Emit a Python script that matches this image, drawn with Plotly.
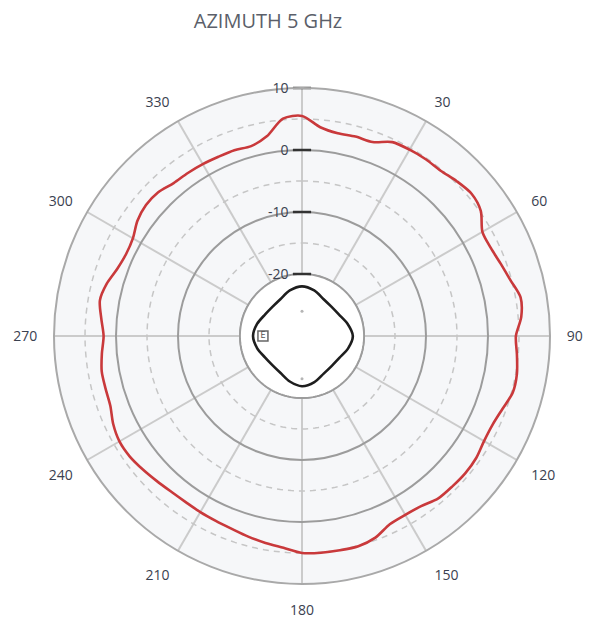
import numpy as np
import plotly.graph_objects as go

# ---- data ----
red_theta = list(range(0, 360, 5))
red_db = [5.5, 3.8, 3.2, 3.3, 3.3, 4.5, 4.7, 4.8, 4.8, 5.3, 5.7, 5.2,
          3.6, 3.6, 4.1, 4.8, 5.8, 5.5, 4.5, 4.8, 5.2, 5.2, 4.4, 3.9,
          3.9, 4.3, 4.4, 4.3, 4.2, 3.5, 3.3, 3.5, 4.6, 5.1, 5.1, 5.1,
          5.0, 4.3, 3.9, 3.5, 3.1, 2.9, 2.8, 2.7, 2.8, 3.1, 3.5, 3.9,
          4.0, 3.6, 2.9, 2.8, 2.8, 2.4, 2.0, 2.5, 3.1, 2.6, 1.7, 1.3,
          1.5, 2.4, 2.85, 2.8, 2.2, 2.1, 2.0, 1.9, 1.9, 1.7, 2.7, 5.2]

black_theta = list(range(0, 360, 15))
black_db = [-22.0, -22.4, -23.1, -23.3, -23.1, -22.4, -21.8, -22.3, -23.0,
            -23.2, -23.0, -22.3, -21.9, -22.4, -23.1, -23.3, -23.1, -22.5,
            -22.1, -22.5, -23.1, -23.3, -23.1, -22.4]

angle_ticks = list(range(0, 360, 30))
angle_labels = ["" if a == 0 else str(a) for a in angle_ticks]
radial_ticks = [10, 0, -10, -20]
radial_labels = ["10", "0", "-10", "-20"]
dashed_rings = [-15, -5, 5]
inner_ring = -20

title_text = "AZIMUTH 5 GHz"

# ---- figure ----
ring_theta = np.arange(0, 361, 2)
fig = go.Figure()

# white inner disc (covers spokes inside the -20 ring)
fig.add_trace(go.Scatterpolar(
    r=[inner_ring] * len(ring_theta), theta=ring_theta, mode="lines",
    fill="toself", fillcolor="white",
    line=dict(color="#9c9c9c", width=1.8), hoverinfo="skip", showlegend=False))

for rv in dashed_rings:
    fig.add_trace(go.Scatterpolar(
        r=[rv] * len(ring_theta), theta=ring_theta, mode="lines",
        line=dict(color="#c6c6c6", width=1.5, dash="6px,5px"),
        hoverinfo="skip", showlegend=False))

fig.add_trace(go.Scatterpolar(
    r=red_db + [red_db[0]], theta=red_theta + [360], mode="lines",
    line=dict(color="#c9393b", width=2.6, shape="spline", smoothing=0.8),
    showlegend=False))

fig.add_trace(go.Scatterpolar(
    r=black_db + [black_db[0]], theta=black_theta + [360], mode="lines",
    line=dict(color="#1e1e1e", width=2.6, shape="spline", smoothing=0.8),
    showlegend=False))

# small "E" badge
fig.add_trace(go.Scatterpolar(
    r=[-23.7], theta=[270], mode="markers+text", text=["E"],
    textposition="middle center",
    textfont=dict(family="DejaVu Sans", size=8, color="#555555"),
    marker=dict(symbol="square-open", size=10, color="#666666",
                line=dict(width=1.5, color="#666666")),
    hoverinfo="skip", showlegend=False))

# tiny grey specks
fig.add_trace(go.Scatterpolar(
    r=[-26, -23.1], theta=[0, 180], mode="markers",
    marker=dict(size=3, color="#b5b5b5"), hoverinfo="skip", showlegend=False))

# radial tick dashes on the 0° spoke
fig.add_trace(go.Scatterpolar(
    r=radial_ticks, theta=[0] * len(radial_ticks), mode="markers",
    marker=dict(symbol="line-ew", size=13, color="#333333",
                line=dict(width=2.5, color="#333333")),
    hoverinfo="skip", showlegend=False))

fig.update_layout(
    width=592, height=622,
    margin=dict(l=46, r=50, t=80, b=46),
    paper_bgcolor="white",
    title=dict(text=title_text, x=260 / 592, xanchor="center",
               y=1 - 13 / 622, yanchor="middle", yref="container",
               font=dict(family="Open Sans", size=20, color="#5b5f6a")),
    polar=dict(
        bgcolor="#f6f7f9",
        domain=dict(x=[0, 1], y=[0, 1]),
        angularaxis=dict(
            rotation=90, direction="clockwise",
            tickmode="array", tickvals=angle_ticks, ticktext=angle_labels,
            ticks="outside", ticklen=13, tickcolor="rgba(0,0,0,0)",
            tickfont=dict(family="Open Sans", size=14, color="#3a4150"),
            showgrid=True, gridcolor="#cbcbcb", gridwidth=1.5,
            showline=True, linecolor="#a9a9a9", linewidth=2),
        radialaxis=dict(
            range=[-30, 10], angle=90, tickangle=90, side="counterclockwise",
            tickmode="array", tickvals=radial_ticks, ticktext=radial_labels,
            ticks="outside", ticklen=8, tickcolor="rgba(0,0,0,0)",
            tickfont=dict(family="Open Sans", size=14, color="#3a4150"),
            showgrid=True, gridcolor="#9c9c9c", gridwidth=1.8,
            showline=False),
    ),
)

fig.write_html("out.html")
